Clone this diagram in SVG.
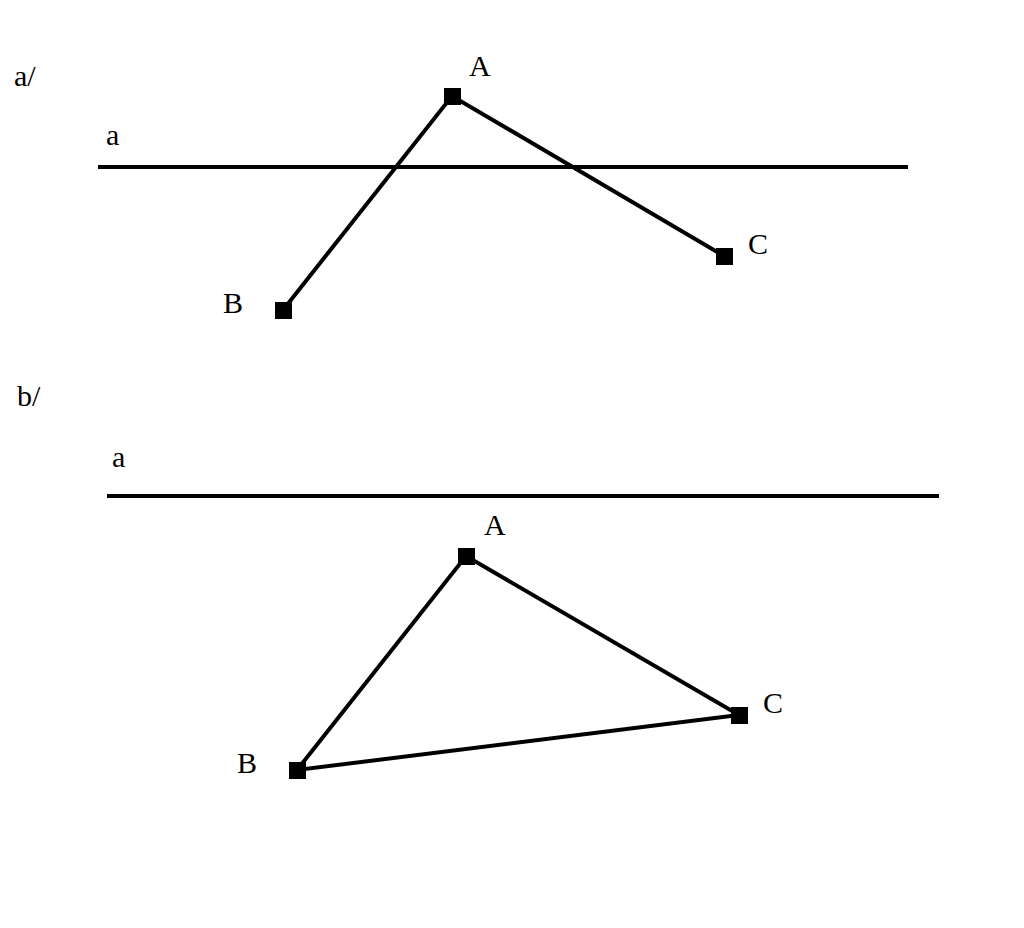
<svg xmlns="http://www.w3.org/2000/svg" width="1024" height="928" viewBox="0 0 1024 928">
<style>
.t{font-family:"Liberation Serif","DejaVu Serif",serif;font-size:30px;fill:#000}
.l{stroke:#000;stroke-width:4;fill:none}
.p{fill:#000}
</style>
<rect width="1024" height="928" fill="#fff"/>
<text class="t" x="14" y="86">a/</text>
<text class="t" x="17" y="406">b/</text>
<g id="connectors">
<line class="l" x1="98" y1="167" x2="908" y2="167"/>
<polyline class="l" points="283,310 452,96 724,256"/>
<line class="l" x1="107" y1="496" x2="939" y2="496"/>
<polygon class="l" points="297,770 466,556 739,715"/>
</g>
<g id="line-a1"><text class="t" x="106" y="145">a</text></g>
<g id="A1"><rect class="p" x="444" y="88" width="17" height="17"/><text class="t" x="469" y="76">A</text></g>
<g id="B1"><rect class="p" x="275" y="302" width="17" height="17"/><text class="t" x="223" y="313">B</text></g>
<g id="C1"><rect class="p" x="716" y="248" width="17" height="17"/><text class="t" x="748" y="254">C</text></g>
<g id="line-a2"><text class="t" x="112" y="467">a</text></g>
<g id="A2"><rect class="p" x="458" y="548" width="17" height="17"/><text class="t" x="484" y="535">A</text></g>
<g id="B2"><rect class="p" x="289" y="762" width="17" height="17"/><text class="t" x="237" y="773">B</text></g>
<g id="C2"><rect class="p" x="731" y="707" width="17" height="17"/><text class="t" x="763" y="713">C</text></g>
</svg>
